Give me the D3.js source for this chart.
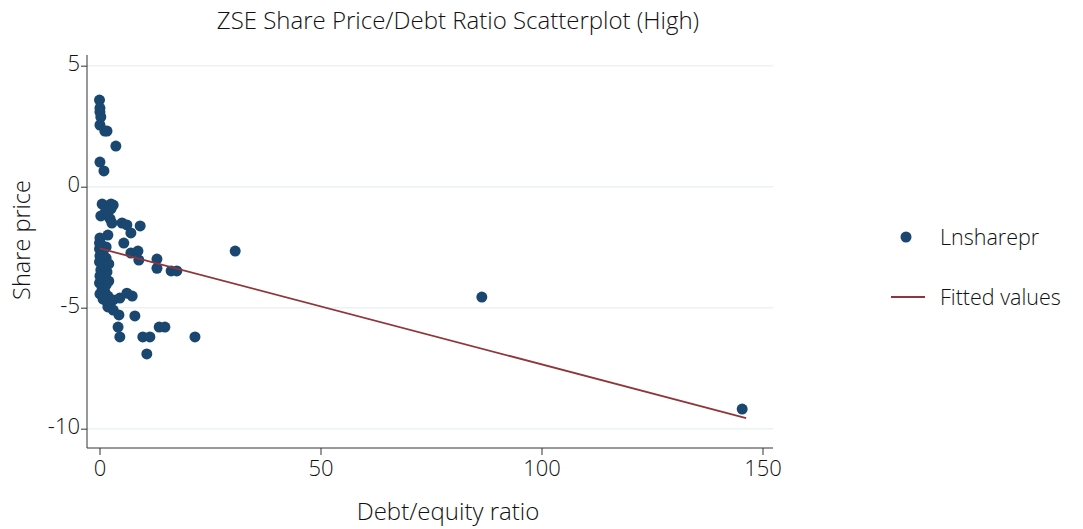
<!DOCTYPE html>
<html><head><meta charset="utf-8">
<script src="https://cdn.jsdelivr.net/npm/d3@7"></script>
<style>body{margin:0;background:#fff;}svg{display:block;}</style>
</head><body>
<script>
const debtEquity = [0.0,0.1,0.1,0.3,0.1,1.2,1.7,3.7,0.1,1.0,
 0.6,2.6,3.1,1.2,0.3,1.9,2.4,2.8,5.1,6.2,9.2,7.1,1.9,0.1,5.5,0.0,0.0,7.1,8.7,8.9,13.0,13.0,16.2,17.5,30.7,86.5,145.4,
 0.3,1.5,0.8,0.1,1.5,0.0,1.0,2.1,0.3,1.7,0.1,1.0,0.0,1.5,2.1,0.6,1.2,0.1,1.9,0.8,1.7,2.6,3.1,4.6,6.2,7.4,1.9,3.1,4.4,8.0,4.2,13.5,14.8,4.6,9.8,11.4,21.6,10.7,2.6];
const lnSharePr = [3.58,3.25,3.09,2.88,2.55,2.30,2.30,1.68,1.02,0.65,
 -0.72,-0.72,-0.76,-1.09,-1.21,-1.21,-1.33,-1.50,-1.50,-1.58,-1.62,-1.91,-2.00,-2.12,-2.33,-2.33,-2.57,-2.74,-2.66,-3.03,-2.99,-3.37,-3.48,-3.48,-2.66,-4.56,-9.19,
 -2.37,-2.49,-2.70,-2.86,-2.95,-3.11,-3.28,-3.19,-3.44,-3.52,-3.69,-3.81,-3.98,-4.06,-3.90,-4.23,-4.35,-4.43,-4.52,-4.64,-4.76,-4.68,-4.68,-4.60,-4.40,-4.52,-4.97,-5.10,-5.30,-5.34,-5.80,-5.80,-5.80,-6.21,-6.21,-6.21,-6.21,-6.91,-0.92];
const fitX = [0.05, 146.3];
const fitY = [-2.55, -9.56];
const xTicks = [0,50,100,150];
const yTicks = [5,0,-5,-10];
const titleText = "ZSE Share Price/Debt Ratio Scatterplot (High)";
const xTitle = "Debt/equity ratio";
const yTitle = "Share price";
const legendLabels = ["Lnsharepr","Fitted values"];

const W=1083,H=529;
const font = "'Open Sans', sans-serif";
const fw = 300;
const navy="#1a476f", maroon="#90353b";
const svg=d3.select("body").append("svg").attr("width",W).attr("height",H);
svg.append("rect").attr("width",W).attr("height",H).attr("fill","#fff");

const x=d3.scaleLinear().domain([0,150]).range([99.5,762.5]);
const y=d3.scaleLinear().domain([5,-10]).range([65.7,428.7]);
const pLeft=87, pRight=773, pBottom=448, pTop=55;

// gridlines
svg.append("g").selectAll("line").data(yTicks).join("line")
 .attr("x1",pLeft).attr("x2",pRight).attr("y1",d=>y(d)).attr("y2",d=>y(d))
 .attr("stroke","#eaf2f3").attr("stroke-width",1.5);

// axes
const ya=svg.append("g").attr("transform",`translate(${pLeft},0)`)
 .call(d3.axisLeft(y).tickValues(yTicks).tickSize(6).tickPadding(1).tickFormat(d=>String(d)));
ya.select(".domain").attr("d",`M0,${pTop}V${pBottom}`).attr("stroke","#333");
ya.selectAll(".tick line").attr("stroke","#333");
ya.selectAll("text").attr("font-family",font).attr("font-weight",fw).attr("font-size",22).attr("fill","#111").attr("dy","0.2em");

const xa=svg.append("g").attr("transform",`translate(0,${pBottom})`)
 .call(d3.axisBottom(x).tickValues(xTicks).tickSize(7).tickPadding(5));
xa.select(".domain").attr("d",`M${pLeft},0H${pRight}`).attr("stroke","#333");
xa.selectAll(".tick line").attr("stroke","#333");
xa.selectAll("text").attr("font-family",font).attr("font-weight",fw).attr("font-size",22).attr("fill","#111");

// points
svg.append("g").selectAll("circle").data(debtEquity.map((d,i)=>[d,lnSharePr[i]])).join("circle")
 .attr("cx",d=>x(d[0])).attr("cy",d=>y(d[1])).attr("r",5.5).attr("fill",navy);

// fitted line
svg.append("path").datum(fitX.map((d,i)=>[d,fitY[i]]))
 .attr("d",d3.line().x(d=>x(d[0])).y(d=>y(d[1])))
 .attr("stroke",maroon).attr("stroke-width",1.8).attr("fill","none");

// titles
svg.append("text").attr("x",458).attr("y",29).attr("text-anchor","middle")
 .attr("font-family",font).attr("font-weight",fw).attr("font-size",24).attr("fill","#111").text(titleText);
svg.append("text").attr("x",448).attr("y",520).attr("text-anchor","middle")
 .attr("font-family",font).attr("font-weight",fw).attr("font-size",24).attr("fill","#111").text(xTitle);
svg.append("text").attr("transform","translate(30,240) rotate(-90)").attr("text-anchor","middle")
 .attr("font-family",font).attr("font-weight",fw).attr("font-size",23.5).attr("fill","#111").text(yTitle);

// legend
const lg=svg.append("g");
lg.append("circle").attr("cx",906).attr("cy",237).attr("r",5.5).attr("fill",navy);
lg.append("line").attr("x1",891).attr("x2",925).attr("y1",297).attr("y2",297).attr("stroke",maroon).attr("stroke-width",1.8);
lg.selectAll("text").data(legendLabels).join("text")
 .attr("x",940).attr("y",(d,i)=>237+i*60).attr("dy","0.35em")
 .attr("font-family",font).attr("font-weight",fw).attr("font-size",21.5).attr("fill","#111").text(d=>d);
</script>
</body></html>
